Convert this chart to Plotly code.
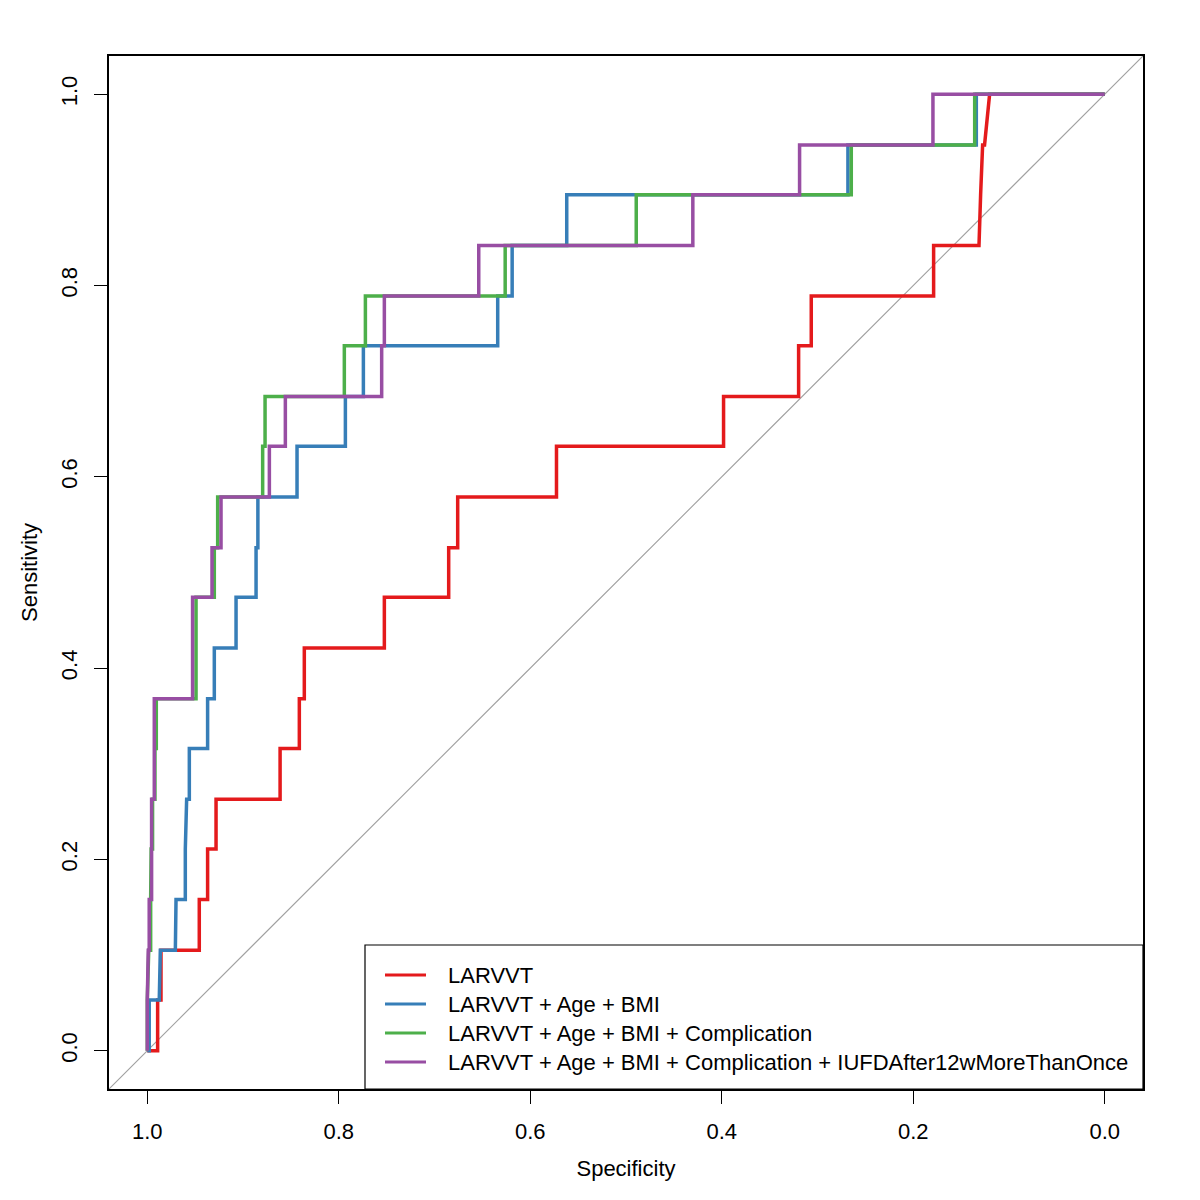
import plotly.graph_objects as go

# ROC curves: (specificity, sensitivity) pairs
larvvt_spec = [1.0, 0.9892, 0.9892, 0.9857, 0.9857, 0.9457, 0.9457, 0.937, 0.937, 0.9282, 0.9282,
               0.8613, 0.8613, 0.8412, 0.8412, 0.836, 0.836, 0.7524, 0.7524, 0.6852, 0.6852,
               0.6758, 0.6758, 0.5726, 0.5726, 0.3981, 0.3981, 0.3197, 0.3197, 0.3065, 0.3065,
               0.1787, 0.1787, 0.1313, 0.1296, 0.1275, 0.1255, 0.1202, 0.0]
larvvt_sens = [0.0, 0.0, 0.053, 0.053, 0.105, 0.105, 0.158, 0.158, 0.211, 0.211, 0.263,
               0.263, 0.316, 0.316, 0.368, 0.368, 0.421, 0.421, 0.474, 0.474, 0.526,
               0.526, 0.579, 0.579, 0.632, 0.632, 0.684, 0.684, 0.737, 0.737, 0.789,
               0.789, 0.842, 0.842, 0.895, 0.947, 0.947, 1.0, 1.0]

age_bmi_spec = [1.0, 0.998, 0.998, 0.9875, 0.9864, 0.9707, 0.970, 0.9603, 0.9603, 0.9589, 0.9561,
                0.9561, 0.937, 0.937, 0.930, 0.930, 0.9073, 0.9073, 0.8864, 0.8864, 0.8845,
                0.8845, 0.8436, 0.8436, 0.7931, 0.7931, 0.7743, 0.7743, 0.634, 0.634, 0.6189,
                0.6189, 0.5619, 0.5619, 0.2682, 0.2682, 0.1341, 0.1341, 0.0]
age_bmi_sens = [0.0, 0.0, 0.053, 0.053, 0.105, 0.105, 0.158, 0.158, 0.211, 0.263, 0.263,
                0.316, 0.316, 0.368, 0.368, 0.421, 0.421, 0.474, 0.474, 0.526, 0.526,
                0.579, 0.579, 0.632, 0.632, 0.684, 0.684, 0.737, 0.737, 0.789, 0.789,
                0.842, 0.842, 0.895, 0.895, 0.947, 0.947, 1.0, 1.0]

compl_spec = [1.0, 1.0, 0.9985, 0.9965, 0.9965, 0.996, 0.9945, 0.9945, 0.992, 0.992, 0.9906,
              0.9906, 0.9491, 0.9491, 0.930, 0.930, 0.9265, 0.9265, 0.8795, 0.8795, 0.877,
              0.877, 0.7942, 0.7942, 0.7722, 0.7722, 0.6262, 0.6262, 0.4893, 0.4893, 0.2647,
              0.2647, 0.1358, 0.1358, 0.0]
compl_sens = [0.0, 0.053, 0.105, 0.105, 0.158, 0.211, 0.211, 0.263, 0.263, 0.316, 0.316,
              0.368, 0.368, 0.474, 0.474, 0.526, 0.526, 0.579, 0.579, 0.632, 0.632,
              0.684, 0.684, 0.737, 0.737, 0.789, 0.789, 0.842, 0.842, 0.895, 0.895,
              0.947, 0.947, 1.0, 1.0]

iufd_spec = [1.0, 1.0, 0.999, 0.998, 0.998, 0.9955, 0.9955, 0.9927, 0.9927, 0.9527, 0.9527,
             0.9324, 0.9324, 0.923, 0.923, 0.8725, 0.8725, 0.8558, 0.8558, 0.7552, 0.7552,
             0.7524, 0.7524, 0.6538, 0.6538, 0.4302, 0.4302, 0.3187, 0.3187, 0.1794, 0.1794, 0.0]
iufd_sens = [0.0, 0.053, 0.105, 0.105, 0.158, 0.158, 0.263, 0.263, 0.368, 0.368, 0.474,
             0.474, 0.526, 0.526, 0.579, 0.579, 0.632, 0.632, 0.684, 0.684, 0.737,
             0.737, 0.789, 0.789, 0.842, 0.842, 0.895, 0.895, 0.947, 0.947, 1.0, 1.0]

labels = ["LARVVT",
          "LARVVT + Age + BMI",
          "LARVVT + Age + BMI + Complication",
          "LARVVT + Age + BMI + Complication + IUFDAfter12wMoreThanOnce"]
colors = ["#E41A1C", "#377EB8", "#4DAF4A", "#984EA3"]
ticks = [1.0, 0.8, 0.6, 0.4, 0.2, 0.0]
tick_text = ["1.0", "0.8", "0.6", "0.4", "0.2", "0.0"]

curves = [(larvvt_spec, larvvt_sens), (age_bmi_spec, age_bmi_sens),
          (compl_spec, compl_sens), (iufd_spec, iufd_sens)]

FONT = "Liberation Sans, Arial, Helvetica, sans-serif"

fig = go.Figure()

# chance diagonal across the whole box
fig.add_trace(go.Scatter(x=[1.04, -0.04], y=[-0.04, 1.04], mode="lines",
                         line=dict(color="#A0A0A0", width=1.1), showlegend=False,
                         hoverinfo="skip"))

for (sx, sy), name, col in zip(curves, labels, colors):
    fig.add_trace(go.Scatter(x=sx, y=sy, mode="lines", name=name,
                             line=dict(color=col, width=3.5), showlegend=False))

# plot box in page pixels (page has an 8px body offset)
OFF = 8
L, R, T, B = 109, 1143, 56, 1089
def px(x):
    return (x - L) / (R - L)
def py(y):
    return (B - y) / (B - T)

shapes = [dict(type="rect", xref="paper", yref="paper", x0=px(365), x1=1, y0=0, y1=py(945),
               line=dict(color="black", width=1.2), fillcolor="white", layer="above")]
annotations = []
for i, (name, col) in enumerate(zip(labels, colors)):
    yy = py(975 + 29 * i)
    shapes.append(dict(type="line", xref="paper", yref="paper", x0=px(385), x1=px(426),
                       y0=yy, y1=yy, line=dict(color=col, width=3), layer="above"))
    annotations.append(dict(xref="paper", yref="paper", x=px(446), y=yy, text=name,
                            showarrow=False, xanchor="left", yanchor="middle",
                            font=dict(family=FONT, size=22, color="black")))

fig.update_layout(
    width=1200, height=1200,
    margin=dict(l=L - OFF, r=1200 - R + OFF, t=T - OFF, b=1200 - B + OFF),
    paper_bgcolor="white", plot_bgcolor="white",
    font=dict(family=FONT, size=22, color="black"),
    shapes=shapes, annotations=annotations,
)
fig.update_xaxes(range=[1.04, -0.04], tickvals=ticks, ticktext=tick_text,
                 showgrid=False, zeroline=False, showline=True, mirror=True,
                 linecolor="black", linewidth=1.5, ticks="outside", ticklen=13,
                 tickwidth=1.2, tickcolor="black", ticklabelstandoff=9,
                 title=dict(text="Specificity", standoff=17,
                            font=dict(family=FONT, size=22)))
fig.update_yaxes(range=[-0.04, 1.04], tickvals=ticks, ticktext=tick_text, tickangle=-90,
                 showgrid=False, zeroline=False, showline=True, mirror=True,
                 linecolor="black", linewidth=1.5, ticks="outside", ticklen=13,
                 tickwidth=1.2, tickcolor="black", ticklabelstandoff=8,
                 title=dict(text="Sensitivity", standoff=14,
                            font=dict(family=FONT, size=22)))

fig.write_html("out.html")
